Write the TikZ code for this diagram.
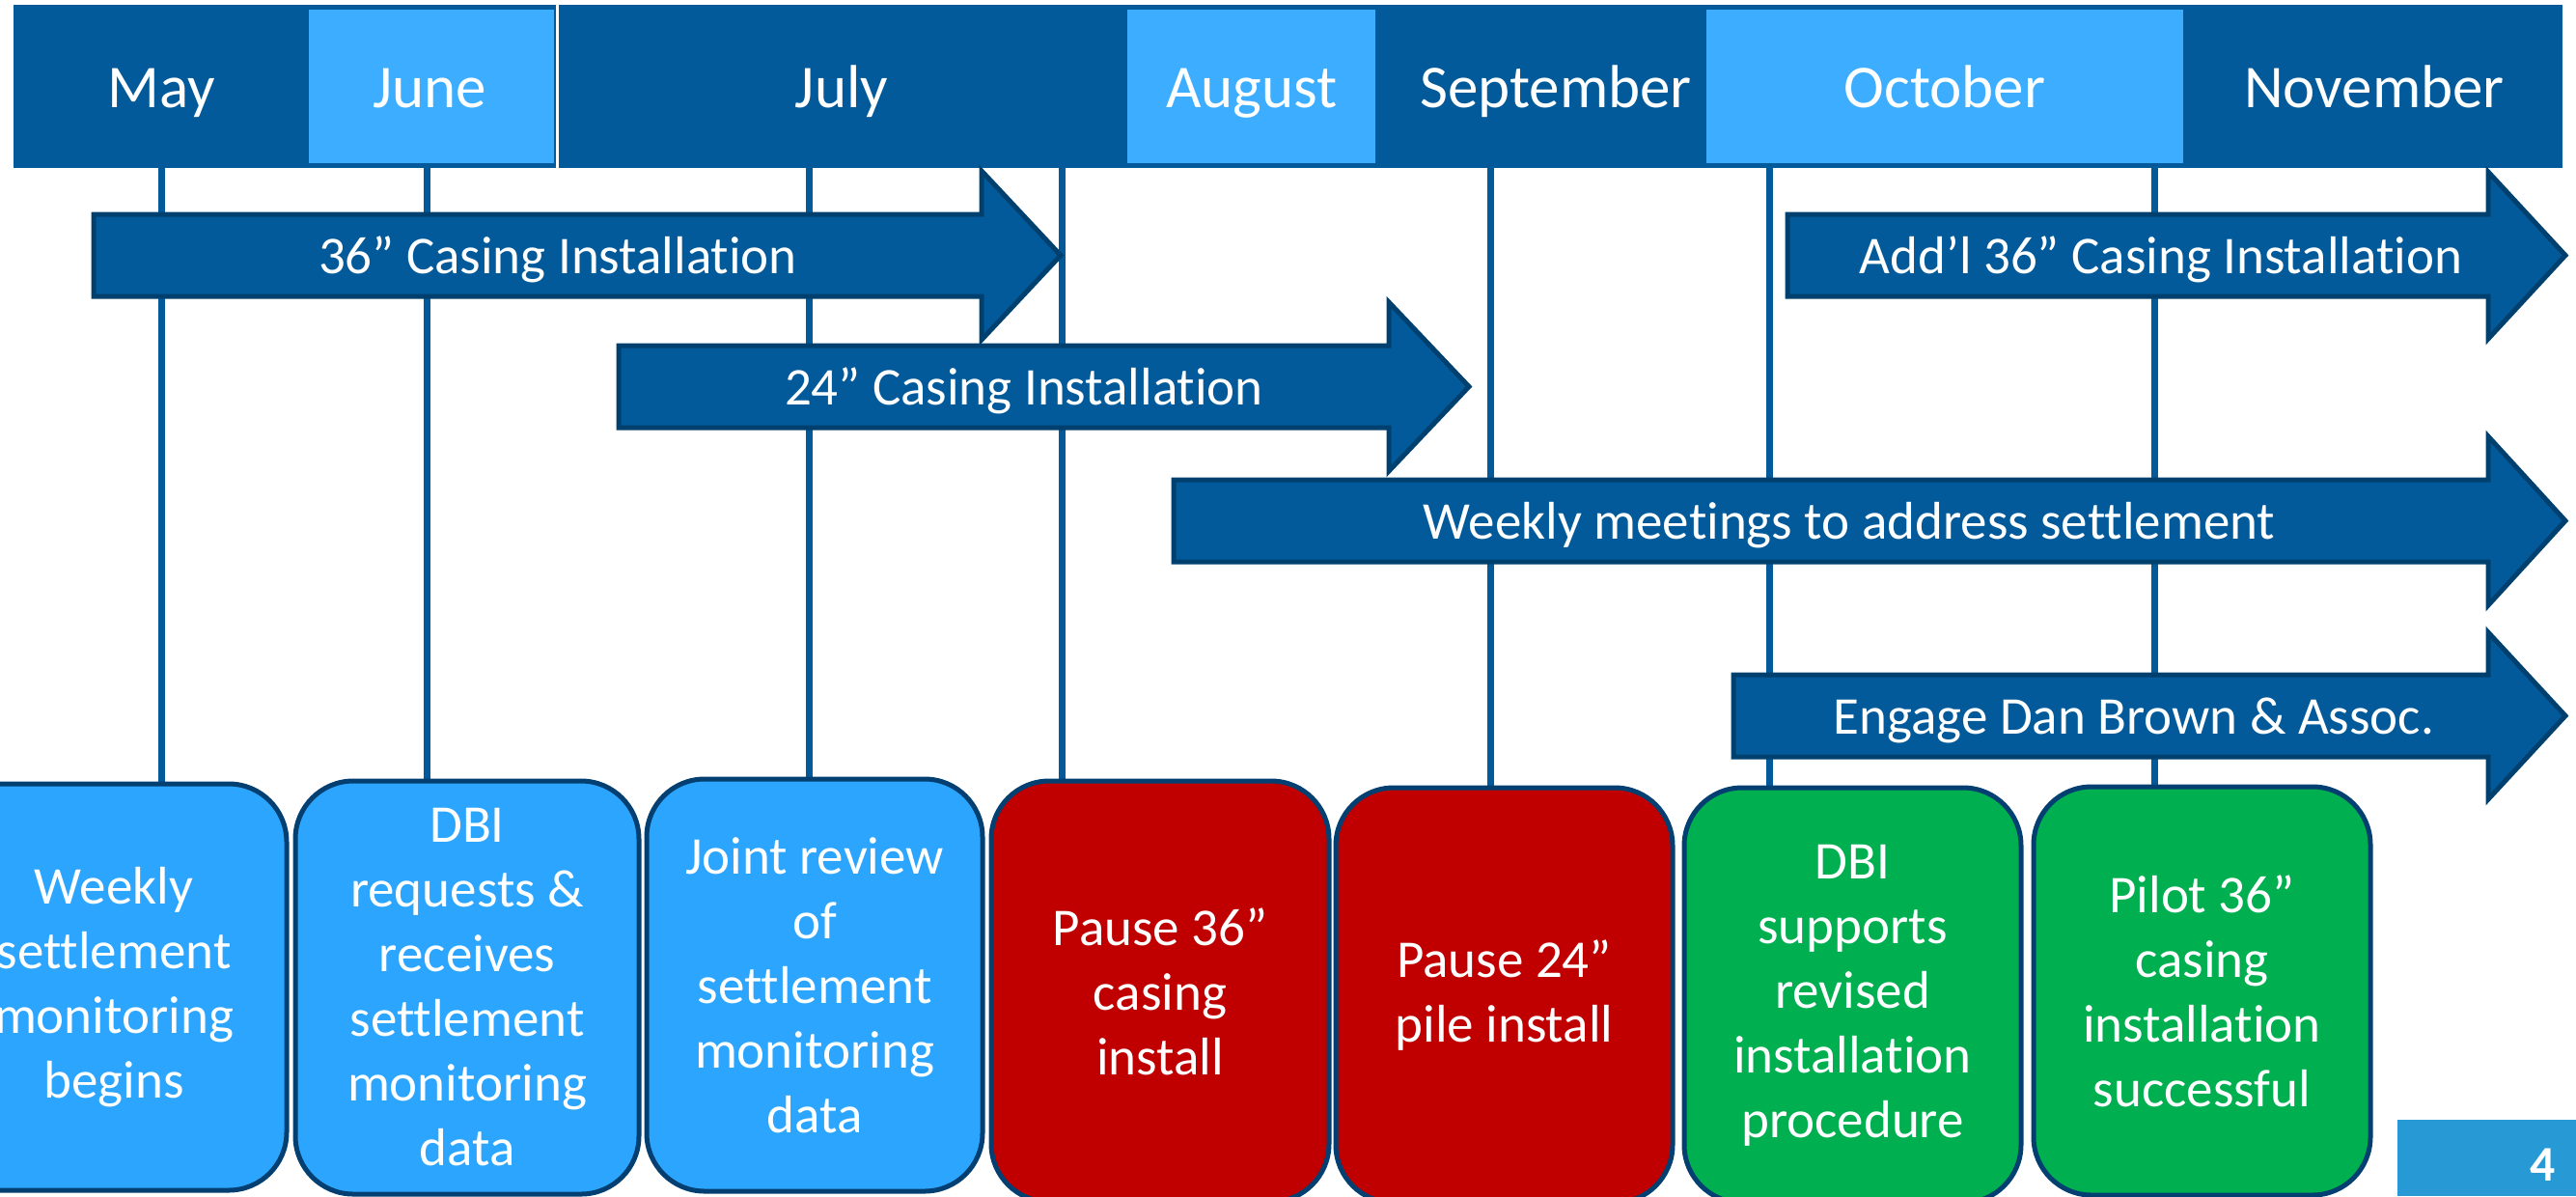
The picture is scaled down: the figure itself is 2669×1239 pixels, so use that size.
\documentclass[tikz,border=0pt]{standalone}
\usepackage{fontspec}
\setmainfont{Carlito}[Ligatures={NoCommon,NoContextual}]
\definecolor{bardark}{HTML}{025A9A}
\definecolor{barlight}{HTML}{3DAEFF}
\definecolor{arrowfill}{HTML}{035A9A}
\definecolor{arrowline}{HTML}{00406F}
\definecolor{boxblue}{HTML}{2CA5FF}
\definecolor{boxred}{HTML}{C00000}
\definecolor{boxgreen}{HTML}{00AF50}
\definecolor{boxline}{HTML}{033F70}
\definecolor{pagebox}{HTML}{2799D4}
\pgfdeclarelayer{bg}
\pgfsetlayers{bg,main}
\tikzset{
  monthtxt/.style={text=white, anchor=base, inner sep=0pt, font=\fontsize{18.9pt}{22pt}\selectfont},
  evbox/.style={draw=boxline, line width=1.5pt, rounded corners=18pt, text=white, align=center,
     inner sep=0pt, font=\fontsize{16.5pt}{20.1pt}\selectfont},
  tlarrow/.style={fill=arrowfill, draw=arrowline, line width=1.5pt, line join=miter},
  arrtxt/.style={text=white, anchor=base, inner sep=0pt, font=\fontsize{16.5pt}{20pt}\selectfont},
  tick/.style={draw=bardark, line width=2.1pt},
}
\begin{document}
\begin{tikzpicture}[x=0.3pt,y=-0.3pt]
\useasboundingbox (0,0) rectangle (2669,1239);
\clip (0,0) rectangle (2669,1239);

% arrows
\draw[tlarrow] (97,222) -- (1017,222) -- (1017,177) -- (1099,264.5) -- (1017,352) -- (1017,307) -- (97,307) -- cycle;
\node[arrtxt] (a1) at (578,283) {36” Casing Installation};
\draw[tlarrow] (641,358) -- (1439,358) -- (1439,313) -- (1522,400.5) -- (1439,488) -- (1439,443) -- (641,443) -- cycle;
\node[arrtxt] (a2) at (1061,419) {24” Casing Installation};
\draw[tlarrow] (1216,497) -- (2578,497) -- (2578,452) -- (2658,539.5) -- (2578,627) -- (2578,582) -- (1216,582) -- cycle;
\node[arrtxt] (a3) at (1916,558) {Weekly meetings to address settlement};
\draw[tlarrow] (1852,222) -- (2578,222) -- (2578,178) -- (2658,264.5) -- (2578,351) -- (2578,307) -- (1852,307) -- cycle;
\node[arrtxt] (a4) at (2239,283) {Add’l 36” Casing Installation};
\draw[tlarrow] (1796,699) -- (2578,699) -- (2578,655) -- (2658,741.5) -- (2578,828) -- (2578,784) -- (1796,784) -- cycle;
\node[arrtxt] (a5) at (2211,760) {Engage Dan Brown \& Assoc.};

% event boxes
\node[evbox, fill=boxblue, minimum width=107.4pt, minimum height=126.3pt] (b1) at (118,1022.5)
  {Weekly\\settlement\\monitoring\\begins};
\node[evbox, fill=boxblue, minimum width=106.8pt, minimum height=128.4pt] (b2) at (484,1023)
  {DBI\\requests \&\\receives\\settlement\\monitoring\\data};
\node[evbox, fill=boxblue, minimum width=104.4pt, minimum height=128.1pt] (b3) at (844,1020.5)
  {Joint review\\of\\settlement\\monitoring\\data};
\node[evbox, fill=boxred, minimum width=105pt, minimum height=130.8pt] (b4) at (1202,1027)
  {Pause 36”\\casing\\install};
\node[evbox, fill=boxred, minimum width=104.7pt, minimum height=129pt] (b5) at (1558.5,1031)
  {Pause 24”\\pile install};
\node[evbox, fill=boxgreen, minimum width=104.7pt, minimum height=129pt] (b6) at (1919.5,1031)
  {DBI\\supports\\revised\\installation\\procedure};
\node[evbox, fill=boxgreen, minimum width=104.7pt, minimum height=126.9pt] (b7) at (2281.5,1026.5)
  {Pilot 36”\\casing\\installation\\successful};

% page number
\fill[pagebox] (2484,1160) rectangle (2669,1239);
\node[text=white, anchor=base, inner sep=0pt, font=\bfseries\fontsize{15.5pt}{18pt}\selectfont] (pg) at (2635,1223) {4};

\begin{pgfonlayer}{bg}
  % month bar
  \fill[bardark] (14,5) rectangle (576,174);
  \fill[bardark] (579,5) rectangle (2655,174);
  \fill[barlight] (320,10) rectangle (574,169);
  \fill[barlight] (1168,10) rectangle (1425,169);
  \fill[barlight] (1768,10) rectangle (2262,169);
  \node[monthtxt] (m1) at (167,111) {May};
  \node[monthtxt] (m2) at (445,111) {June};
  \node[monthtxt] (m3) at (872,111) {July};
  \node[monthtxt] (m4) at (1297,111) {August};
  \node[monthtxt] (m5) at (1612,111) {September};
  \node[monthtxt] (m6) at (2015,111) {October};
  \node[monthtxt] (m7) at (2460,111) {November};
  % ticks
  \coordinate (v1) at (167,172);
  \coordinate (v2) at (442,172);
  \coordinate (v3) at (838,172);
  \coordinate (v4) at (1100,172);
  \coordinate (v5) at (1544,172);
  \coordinate (v6) at (1833,172);
  \coordinate (v7) at (2232,172);
  \draw[tick] (v1) -- (v1 |- b1.north);
  \draw[tick] (v2) -- (v2 |- b2.north);
  \draw[tick] (v3) -- (v3 |- b3.north);
  \draw[tick] (v4) -- (v4 |- b4.north);
  \draw[tick] (v5) -- (v5 |- b5.north);
  \draw[tick] (v6) -- (v6 |- b6.north);
  \draw[tick] (v7) -- (v7 |- b7.north);
\end{pgfonlayer}
\end{tikzpicture}
\end{document}
